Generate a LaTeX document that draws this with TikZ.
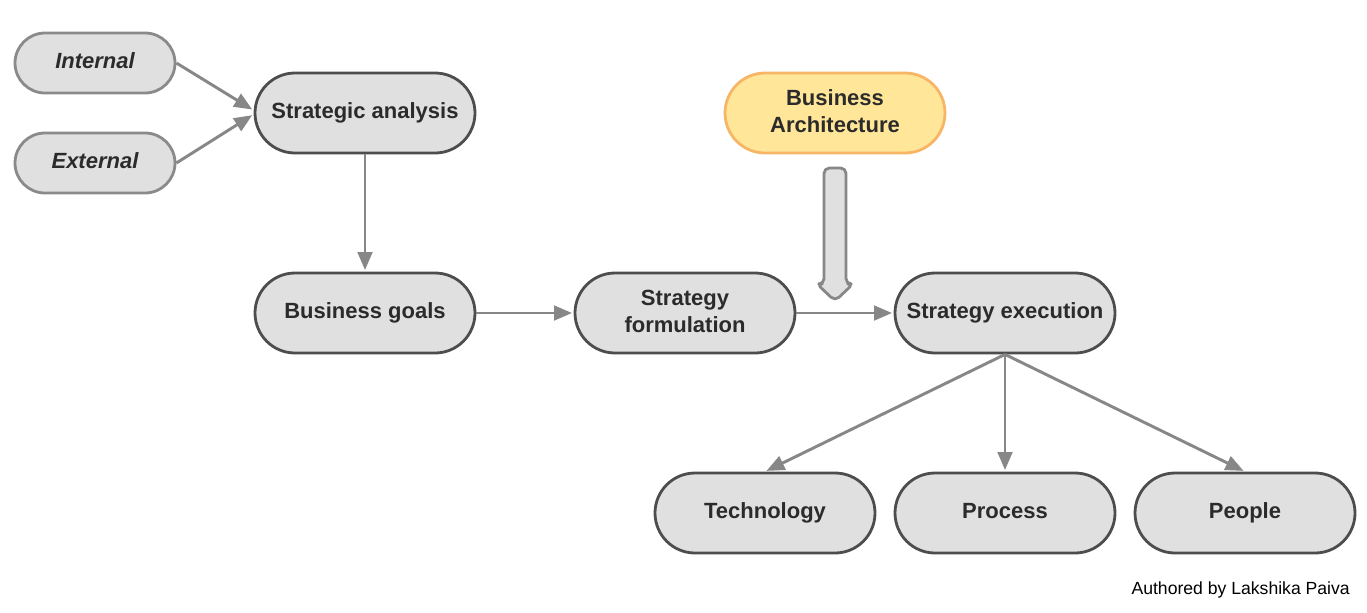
\documentclass[tikz,border=0pt]{standalone}
\usepackage{fontspec}
\setmainfont{Liberation Sans}
\usetikzlibrary{arrows.meta,calc}
\definecolor{boxfill}{HTML}{E0E0E0}
\definecolor{boxdraw}{HTML}{4D4D4D}
\definecolor{lightdraw}{HTML}{8A8A8A}
\definecolor{edgecol}{HTML}{878787}
\definecolor{txt}{HTML}{2B2B2B}
\definecolor{yfill}{HTML}{FFE699}
\definecolor{ydraw}{HTML}{F7B566}
\begin{document}
\begin{tikzpicture}[x=0.75pt,y=-0.75pt,
  pill/.style={draw=boxdraw,fill=boxfill,line width=2.1pt,rounded corners=30pt,
    minimum width=165pt,minimum height=60pt,inner sep=0pt,align=center,
    text height=12pt,text depth=4.5pt,
    text=txt,font=\fontsize{16.5}{20}\selectfont\bfseries},
  twoline/.style={text height={},text depth=3pt},
  smallpill/.style={pill,draw=lightdraw,rounded corners=22.5pt,minimum width=120pt,minimum height=45pt,
    font=\fontsize{16.5}{20}\selectfont\bfseries\itshape},
  yellowpill/.style={pill,draw=ydraw,fill=yfill},
  conn/.style={draw=edgecol,line width=2.2pt,shorten >=1.2pt,-{Triangle[length=13.5pt,width=11pt]}}
]
\useasboundingbox (0,0) rectangle (1367,612);
\node[smallpill] (int) at (95,63) {Internal};
\node[smallpill] (ext) at (95,163) {External};
\node[pill] (sa) at (365,113) {Strategic analysis};
\node[pill] (bg) at (365,313) {Business goals};
\node[pill,twoline] (sf) at (685,313) {Strategy\\formulation};
\node[pill] (se) at (1005,313) {Strategy execution};
\node[yellowpill,twoline] (ba) at (835,113) {Business\\Architecture};
\node[pill] (tech) at (765,513) {Technology};
\node[pill] (proc) at (1005,513) {Process};
\node[pill] (ppl) at (1245,513) {People};
\node[anchor=east,text=black,font=\fontsize{13.2}{15}\selectfont,inner sep=0pt] (auth) at (1350,590) {Authored by Lakshika Paiva};

\draw[conn] (int.east) -- ([yshift=2pt]sa.west);
\draw[conn] (ext.east) -- ([yshift=-1pt]sa.west);
\draw[conn] (sa.south) -- (bg.north);
\draw[conn] (bg.east) -- (sf.west);
\draw[conn] (sf.east) -- (se.west);
\draw[conn] (se.south) -- (tech.north);
\draw[conn] (se.south) -- (proc.north);
\draw[conn] (se.south) -- (ppl.north);

% block arrow
\draw[draw=edgecol,fill=boxfill,line width=2.1pt,line join=round,rounded corners=4pt]
  (824,168) -- (846,168) -- (846,284) -- (853,284) -- (835,301) -- (817,284) -- (824,284) -- cycle;
\end{tikzpicture}
\end{document}
